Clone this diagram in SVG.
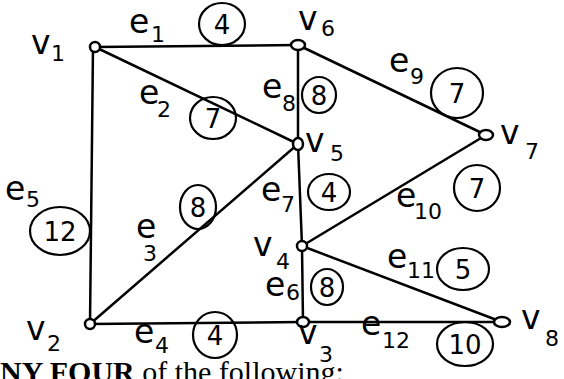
<svg xmlns="http://www.w3.org/2000/svg" width="564" height="379" viewBox="0 0 564 379">
<style>
.bg{fill:#fff}
.ed{stroke:#000;stroke-width:2.5;fill:none;stroke-linecap:round}
.nd{fill:#fff;stroke:#000;stroke-width:2.5}
.wc{fill:none;stroke:#000;stroke-width:2.2}
.h{font-family:"DejaVu Sans",sans-serif;font-size:33px;fill:#000}
.s{font-family:"DejaVu Sans",sans-serif;font-size:22px;fill:#000}
.w{font-family:"DejaVu Sans",sans-serif;font-size:26px;fill:#000;text-anchor:middle}
.p{font-family:"Liberation Serif",serif;font-size:30px;fill:#000}
</style>
<rect class="bg" width="564" height="379"/>
<g id="edges">
<line class="ed" x1="95" y1="47" x2="298" y2="45"/>
<line class="ed" x1="95" y1="47" x2="298" y2="144"/>
<line class="ed" x1="298" y1="45" x2="298" y2="144"/>
<line class="ed" x1="298" y1="45" x2="486" y2="135"/>
<line class="ed" x1="93" y1="47" x2="90" y2="324"/>
<line class="ed" x1="90" y1="324" x2="298" y2="144"/>
<line class="ed" x1="90" y1="324" x2="303" y2="322"/>
<line class="ed" x1="298" y1="144" x2="302" y2="246"/>
<line class="ed" x1="302" y1="246" x2="303" y2="322"/>
<line class="ed" x1="486" y1="135" x2="302" y2="246"/>
<line class="ed" x1="302" y1="246" x2="502" y2="322"/>
<line class="ed" x1="303" y1="322" x2="502" y2="322"/>
</g>
<g id="edge-labels">
<text class="h" x="129" y="33">e</text><text class="s" x="151" y="42">1</text>
<ellipse class="wc" cx="222" cy="24" rx="23" ry="21"/><text class="w" x="222" y="34">4</text>
<text class="h" x="139" y="104">e</text><text class="s" x="157" y="117">2</text>
<ellipse class="wc" cx="213" cy="118" rx="23" ry="21"/><text class="w" x="213" y="128">7</text>
<text class="h" x="262" y="98">e</text><text class="s" x="282" y="111">8</text>
<ellipse class="wc" cx="319" cy="95" rx="17" ry="18"/><text class="w" x="319" y="105">8</text>
<text class="h" x="261" y="201">e</text><text class="s" x="281" y="212">7</text>
<ellipse class="wc" cx="329" cy="192" rx="21" ry="18"/><text class="w" x="329" y="202">4</text>
<text class="h" x="136" y="238">e</text><text class="s" x="143" y="261">3</text>
<ellipse class="wc" cx="198" cy="207" rx="18" ry="22"/><text class="w" x="198" y="217">8</text>
<text class="h" x="5" y="200">e</text><text class="s" x="26" y="207">5</text>
<ellipse class="wc" cx="60" cy="231" rx="30" ry="24"/><text class="w" x="60" y="241">12</text>
<text class="h" x="134" y="343">e</text><text class="s" x="155" y="353">4</text>
<ellipse class="wc" cx="215" cy="335" rx="22" ry="23"/><text class="w" x="215" y="345">4</text>
<text class="h" x="265" y="296">e</text><text class="s" x="286" y="300">6</text>
<ellipse class="wc" cx="327" cy="287" rx="16" ry="18"/><text class="w" x="327" y="297">8</text>
<text class="h" x="389" y="72">e</text><text class="s" x="410" y="84">9</text>
<ellipse class="wc" cx="457" cy="93" rx="26" ry="25"/><text class="w" x="457" y="103">7</text>
<text class="h" x="396" y="207">e</text><text class="s" x="414" y="219">10</text>
<ellipse class="wc" cx="477" cy="188" rx="23" ry="23"/><text class="w" x="477" y="198">7</text>
<text class="h" x="387" y="268">e</text><text class="s" x="407" y="278">11</text>
<ellipse class="wc" cx="463" cy="269" rx="26" ry="21"/><text class="w" x="463" y="279">5</text>
<text class="h" x="361" y="335">e</text><text class="s" x="382" y="348">12</text>
<ellipse class="wc" cx="465" cy="344" rx="28" ry="22"/><text class="w" x="465" y="354">10</text>
</g>
<g id="v1"><circle class="nd" cx="95" cy="47" r="5"/><text class="h" x="31" y="54">v</text><text class="s" x="51" y="61">1</text></g>
<g id="v6"><ellipse class="nd" cx="298" cy="45" rx="7" ry="5"/><text class="h" x="298" y="30">v</text><text class="s" x="321" y="36">6</text></g>
<g id="v5"><ellipse class="nd" cx="298" cy="144" rx="5" ry="6"/><text class="h" x="305" y="152">v</text><text class="s" x="330" y="161">5</text></g>
<g id="v7"><ellipse class="nd" cx="486" cy="135" rx="7" ry="5"/><text class="h" x="500" y="144">v</text><text class="s" x="525" y="159">7</text></g>
<g id="v4"><circle class="nd" cx="302" cy="246" r="5"/><text class="h" x="253" y="256">v</text><text class="s" x="276" y="269">4</text></g>
<g id="v3"><ellipse class="nd" cx="303" cy="322" rx="6" ry="5"/><text class="h" x="298" y="344">v</text><text class="s" x="319" y="362">3</text></g>
<g id="v8"><ellipse class="nd" cx="502" cy="322" rx="8" ry="5"/><text class="h" x="521" y="329">v</text><text class="s" x="545" y="346">8</text></g>
<g id="v2"><circle class="nd" cx="90" cy="324" r="5"/><text class="h" x="26" y="340">v</text><text class="s" x="47" y="351">2</text></g>
<text class="p" x="0" y="382"><tspan font-weight="bold">NY FOUR</tspan> of the following:</text>
</svg>
